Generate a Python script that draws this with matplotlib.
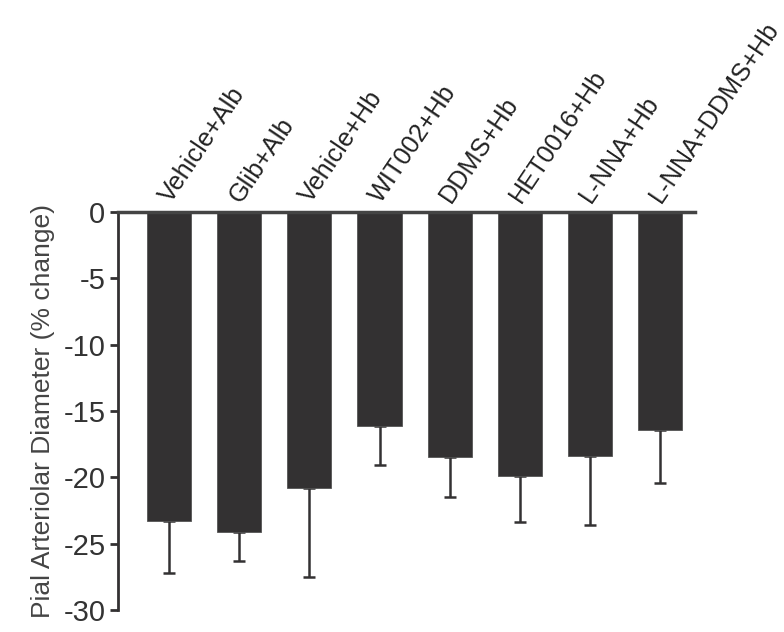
import matplotlib
matplotlib.use("Agg")
import matplotlib.pyplot as plt
import numpy as np

plt.rcParams['font.family'] = ['Liberation Sans', 'DejaVu Sans']

categories = ["Vehicle+Alb", "Glib+Alb", "Vehicle+Hb", "WIT002+Hb", "DDMS+Hb",
              "HET0016+Hb", "L-NNA+Hb", "L-NNA+DDMS+Hb"]
means = [-23.3, -24.1, -20.8, -16.1, -18.5, -19.9, -18.4, -16.4]
errors = [3.9, 2.2, 6.7, 3.0, 3.0, 3.5, 5.2, 4.0]
yticks = [0, -5, -10, -15, -20, -25, -30]

dark = '#333132'
fig = plt.figure(figsize=(7.84, 6.32), dpi=100)
ax = fig.add_axes([0.1505, 0.0348, 0.736, 0.6298])
x = np.arange(len(categories))
ax.bar(x, means, width=0.63, color=dark, edgecolor='#555555', linewidth=0.6, zorder=2)
lower = np.array(errors)
ax.errorbar(x, means, yerr=[lower, np.zeros_like(lower)], fmt='none',
            ecolor=dark, elinewidth=1.8, capsize=4.3, capthick=1.8, zorder=1)

ax.set_xlim(-0.73, 7.5)
ax.set_ylim(-30, 0)
ax.set_yticks(yticks)
ax.set_yticklabels([str(t) for t in yticks], fontsize=21, color='#333333')
ax.tick_params(axis='y', length=6, width=2, color=dark, pad=3)
ax.set_xticks([])
for s in ['right', 'bottom']:
    ax.spines[s].set_visible(False)
ax.spines['left'].set_linewidth(2)
ax.spines['left'].set_color(dark)
ax.spines['top'].set_linewidth(2.5)
ax.spines['top'].set_color('#444444')

ax.set_ylabel("Pial Arteriolar Diameter (% change)", fontsize=19, color='#444444', labelpad=6)

for i, lab in enumerate(categories):
    ax.text(i + 0.02, 0.6, lab, rotation=56, rotation_mode='anchor',
            ha='left', va='baseline', fontsize=18.2, color='#222222', clip_on=False)

fig.savefig("out.png", dpi=100)
